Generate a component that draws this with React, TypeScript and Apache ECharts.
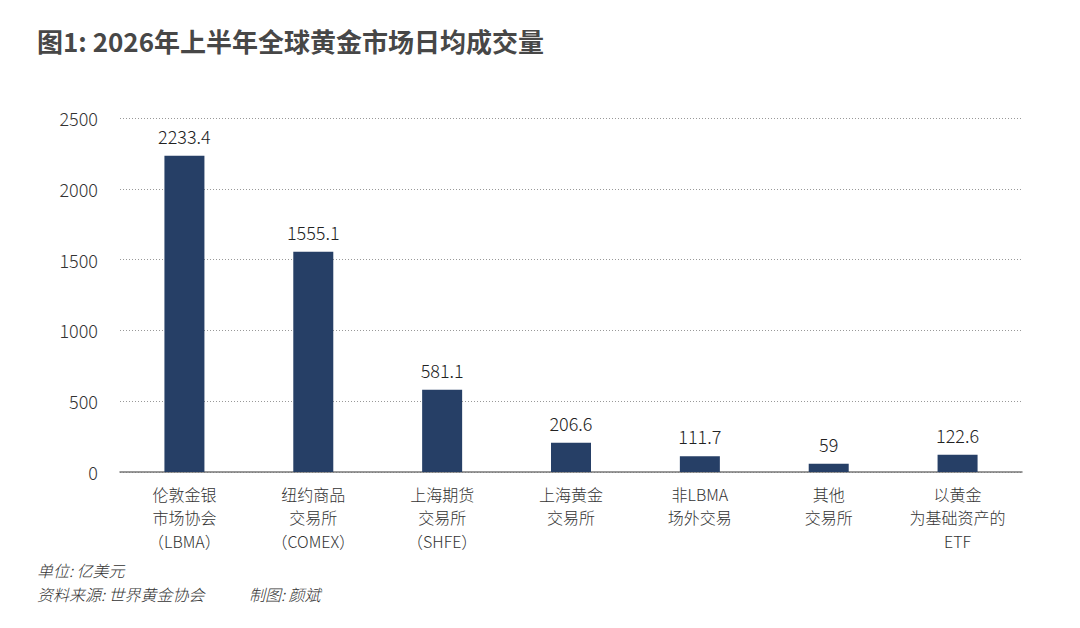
import * as echarts from 'echarts';
import { useEffect, useRef } from 'react';

const categories = [
  '伦敦金银\n市场协会\n（LBMA）',
  '纽约商品\n交易所\n（COMEX）',
  '上海期货\n交易所\n（SHFE）',
  '上海黄金\n交易所',
  '非LBMA\n场外交易',
  '其他\n交易所',
  '以黄金\n为基础资产的\nETF',
];
const volumes = [2233.4, 1555.1, 581.1, 206.6, 111.7, 59, 122.6];
const yTicks = [0, 500, 1000, 1500, 2000, 2500];

const title = '图1: 2026年上半年全球黄金市场日均成交量';
const unitNote = '单位: 亿美元';
const sourceNote = '资料来源: 世界黄金协会';
const authorNote = '制图: 颜斌';

const FONT = '"Noto Sans CJK SC", "Noto Sans", sans-serif';

const App = () => {
  const chartRef = useRef<HTMLDivElement>(null);

  useEffect(() => {
    if (!chartRef.current) return;
    const chart = echarts.init(chartRef.current, null, { renderer: 'svg' });

    const noteStyle = (text: string) => ({
      text,
      fill: '#333',
      font: `italic 300 16px ${FONT}`,
    });

    chart.setOption({
      animation: false,
      backgroundColor: '#ffffff',
      textStyle: { fontFamily: FONT },
      grid: { left: 120, right: 58, top: 118, bottom: 156 },
      graphic: [
        {
          type: 'text',
          left: 37,
          top: 27,
          style: {
            text: title,
            fill: '#474747',
            font: `bold 26px ${FONT}`,
          },
        },
        { type: 'text', left: 37, top: 562, style: noteStyle(unitNote) },
        { type: 'text', left: 37, top: 586, style: noteStyle(sourceNote) },
        { type: 'text', left: 249, top: 586, style: noteStyle(authorNote) },
      ],
      xAxis: {
        type: 'category',
        data: categories,
        axisLine: { lineStyle: { color: '#777', width: 1.5 } },
        axisTick: { show: false },
        axisLabel: {
          color: '#333',
          fontSize: 16,
          fontWeight: 300,
          lineHeight: 23.5,
          margin: 10,
          interval: 0,
          fontFamily: FONT,
        },
      },
      yAxis: {
        type: 'value',
        min: yTicks[0],
        max: yTicks[yTicks.length - 1],
        interval: 500,
        axisLine: { show: false },
        axisTick: { show: false },
        axisLabel: {
          color: '#333',
          fontSize: 18,
          fontWeight: 300,
          margin: 22,
          fontFamily: FONT,
          formatter: (v: number) => String(v),
        },
        splitLine: {
          lineStyle: { color: '#999', type: [1, 2], width: 1 },
        },
      },
      series: [
        {
          type: 'bar',
          data: volumes,
          barWidth: 40,
          itemStyle: { color: '#263f66' },
          label: {
            show: true,
            position: 'top',
            distance: 11,
            color: '#222',
            fontSize: 18,
            fontWeight: 300,
            fontFamily: FONT,
          },
        },
      ],
    });

    return () => {
      chart.dispose();
    };
  }, []);

  return (
    <div
      ref={chartRef}
      style={{ position: 'fixed', left: 0, top: 0, width: 1080, height: 628 }}
    />
  );
};

export default App;
